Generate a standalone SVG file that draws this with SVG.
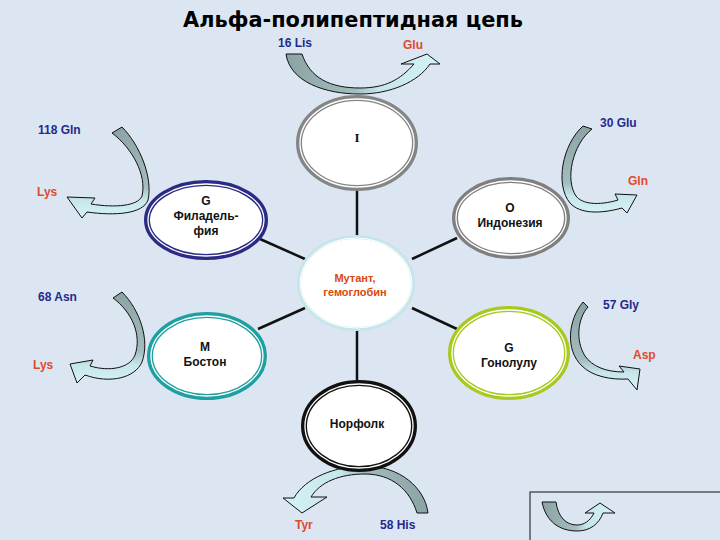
<svg xmlns="http://www.w3.org/2000/svg" width="720" height="540" viewBox="0 0 720 540">
<style>
.title{font-family:"DejaVu Sans","Liberation Sans",sans-serif;font-weight:bold;font-size:21px;fill:#000}
.nt{font-family:"Liberation Sans",Arial,sans-serif;font-weight:bold;font-size:12px;fill:#111;text-anchor:middle}
.mt{font-family:"Liberation Sans",Arial,sans-serif;font-weight:bold;font-size:11px;fill:#d9480f;text-anchor:middle}
.aa{font-family:"Liberation Sans",Arial,sans-serif;font-weight:bold;font-size:12px;fill:#1f2a8c}
.aa2{font-family:"Liberation Sans",Arial,sans-serif;font-weight:bold;font-size:12px;fill:#e04a2a}
.ring{fill:#fff;stroke-width:6}
.gap{fill:none;stroke:#fff;stroke-width:1.3}
.conn{stroke:#111;stroke-width:2.5;fill:none}
.arr{stroke:#111;stroke-width:1;stroke-linejoin:round}
</style>
<defs>
<linearGradient id="gH" x1="0" y1="0" x2="1" y2="0">
<stop offset="0" stop-color="#8ba3a5"/><stop offset="0.45" stop-color="#a3bcbe"/><stop offset="0.6" stop-color="#c6e6ea"/><stop offset="1" stop-color="#d4f3f6"/>
</linearGradient>
<linearGradient id="gHr" x1="1" y1="0" x2="0" y2="0">
<stop offset="0" stop-color="#8ba3a5"/><stop offset="0.45" stop-color="#a3bcbe"/><stop offset="0.6" stop-color="#c6e6ea"/><stop offset="1" stop-color="#d4f3f6"/>
</linearGradient>
<linearGradient id="gV" x1="0" y1="0" x2="0" y2="1">
<stop offset="0" stop-color="#8ba3a5"/><stop offset="0.65" stop-color="#a3bcbe"/><stop offset="0.8" stop-color="#c6e6ea"/><stop offset="1" stop-color="#d4f3f6"/>
</linearGradient>
</defs>
<rect width="720" height="540" fill="#dbe6f2"/>
<text class="title" x="183" y="27" textLength="340" lengthAdjust="spacingAndGlyphs">Альфа-полипептидная цепь</text>

<g id="connectors">
<line class="conn" x1="357" y1="191" x2="357" y2="238"/>
<line class="conn" x1="260" y1="239" x2="305" y2="259"/>
<line class="conn" x1="457" y1="238" x2="412" y2="259"/>
<line class="conn" x1="258" y1="329" x2="305" y2="308"/>
<line class="conn" x1="457" y1="329" x2="412" y2="308"/>
<line class="conn" x1="357" y1="330" x2="357" y2="381"/>
</g>

<g id="mutation-arrows">
<path class="arr" fill="url(#gH)" d="M286,54 C290,82 325,94 360,94 C390,94 418,82 430,64 L440,64 L427,54 L401,64 L414,64 C400,80 385,88 360,88 C330,88 310,78 302,54 Z"/>
<path class="arr" fill="url(#gV)" d="M112,133 L122,127 C140,145 153,178 148,200 C143,214 115,216 87,212 L82,218 L67,197 L95,198 L91,204 C115,208 138,206 142,196 C147,175 132,148 112,133 Z"/>
<path class="arr" fill="url(#gV)" d="M583,126 C562,145 555,185 570,203 C580,214 600,214 622,208 L627,213 L637,195 L615,194 L618,200 C598,206 582,204 576,196 C565,180 572,145 592,129 Z"/>
<path class="arr" fill="url(#gV)" d="M113,298 L122,292 C140,310 150,340 142,362 C135,378 110,384 85,375 L77,383 L70,364 L93,360 L90,366 C110,372 130,368 135,355 C142,335 132,312 113,298 Z"/>
<path class="arr" fill="url(#gV)" d="M583,302 C568,320 565,350 582,366 C592,376 610,380 628,379 L637,390 L640,369 L619,366 L624,372 C605,372 592,366 585,356 C575,340 578,318 588,307 Z"/>
<path class="arr" fill="url(#gHr)" d="M428,513 C425,488 400,466 365,466 C335,466 305,478 294,498 L283,498 L302,513 L327,497 L311,497 C320,482 340,474 365,474 C392,474 410,490 417,513 Z"/>
</g>

<g id="labels">
<text class="aa" x="278" y="47">16 Lis</text>
<text class="aa2" x="403" y="49">Glu</text>
<text class="aa" x="38" y="134">118 Gln</text>
<text class="aa2" x="37" y="196">Lys</text>
<text class="aa" x="600" y="127">30 Glu</text>
<text class="aa2" x="628" y="185">Gln</text>
<text class="aa" x="38" y="301">68 Asn</text>
<text class="aa2" x="33" y="369">Lys</text>
<text class="aa" x="603" y="309">57 Gly</text>
<text class="aa2" x="633" y="359">Asp</text>
<text class="aa2" x="295" y="529">Tyr</text>
<text class="aa" x="380" y="529">58 His</text>
</g>

<g id="node-I">
<ellipse class="ring" cx="357" cy="143" rx="58" ry="45" stroke="#858585"/>
<ellipse class="gap" cx="357" cy="143" rx="57" ry="44"/>
<text x="357" y="142" text-anchor="middle" font-family="Liberation Serif,serif" font-weight="bold" font-size="13" fill="#111">I</text>
</g>

<g id="node-philadelphia">
<ellipse class="ring" cx="206" cy="220" rx="59" ry="37" stroke="#2b2b85"/>
<ellipse class="gap" cx="206" cy="220" rx="58" ry="36"/>
<text class="nt" x="206" y="205">G</text>
<text class="nt" x="206" y="220">Филадель-</text>
<text class="nt" x="206" y="235">фия</text>
</g>

<g id="node-indonesia">
<ellipse class="ring" cx="511" cy="218" rx="56" ry="38" stroke="#7f7f7f"/>
<ellipse class="gap" cx="511" cy="218" rx="55" ry="37"/>
<text class="nt" x="510" y="212">O</text>
<text class="nt" x="510" y="227">Индонезия</text>
</g>

<g id="node-mutant">
<ellipse cx="356" cy="283" rx="57" ry="46" fill="#fff" stroke="#c4e6ea" stroke-width="4"/>
<ellipse cx="356" cy="283" rx="56" ry="45" fill="none" stroke="#fff" stroke-width="1"/>
<text class="mt" x="355" y="282">Мутант,</text>
<text class="mt" x="355" y="296">гемоглобин</text>
</g>

<g id="node-boston">
<ellipse class="ring" cx="207" cy="356" rx="57" ry="41" stroke="#1fa0a0"/>
<ellipse class="gap" cx="207" cy="356" rx="56" ry="40"/>
<text class="nt" x="205" y="351">M</text>
<text class="nt" x="205" y="366">Бостон</text>
</g>

<g id="node-honolulu">
<ellipse class="ring" cx="509" cy="353" rx="58" ry="44" stroke="#a8c91f"/>
<ellipse class="gap" cx="509" cy="353" rx="57" ry="43"/>
<text class="nt" x="509" y="352">G</text>
<text class="nt" x="509" y="367">Гонолулу</text>
</g>

<g id="node-norfolk">
<ellipse class="ring" cx="359" cy="426" rx="55" ry="43" stroke="#111"/>
<ellipse class="gap" cx="359" cy="426" rx="54" ry="42"/>
<text class="nt" x="357" y="428">Норфолк</text>
</g>

<g id="legend">
<rect x="530" y="492" width="200" height="60" fill="none" stroke="#111" stroke-width="1"/>
<path class="arr" fill="url(#gH)" d="M542,502 C546,522 560,531 577,531 C590,531 599,524 603,513 L615,513 L600,503 L585,513 L594,513 C590,521 584,525 577,525 C566,525 558,517 556,502 Z"/>
</g>
</svg>
